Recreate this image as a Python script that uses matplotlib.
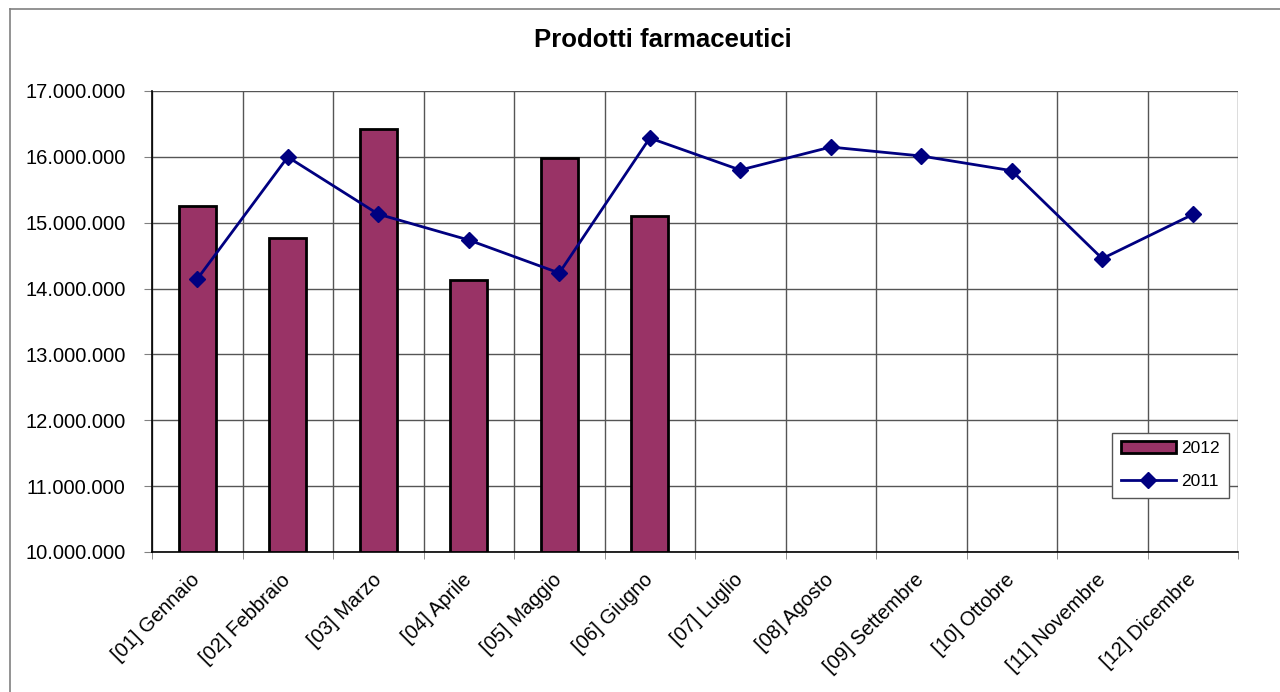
import matplotlib.pyplot as plt
from matplotlib.lines import Line2D
from matplotlib.ticker import FuncFormatter, FixedLocator

plt.rcParams['font.family'] = ['Liberation Sans', 'DejaVu Sans']

mesi = ["[01] Gennaio", "[02] Febbraio", "[03] Marzo", "[04] Aprile", "[05] Maggio",
        "[06] Giugno", "[07] Luglio", "[08] Agosto", "[09] Settembre", "[10] Ottobre",
        "[11] Novembre", "[12] Dicembre"]
# 2012 solo primi sei mesi
valori_2012 = [15254000, 14768000, 16423000, 14130000, 15982000, 15102000]
valori_2011 = [14145000, 15998000, 15130000, 14737000, 14236000, 16286000,
               15800000, 16149000, 16013000, 15790000, 14455000, 15125000]

fig = plt.figure(figsize=(12.8, 6.92), dpi=100)
ax = fig.add_axes([152/1280, 1 - 552/692, (1238-152)/1280, (552-91)/692])

x12 = list(range(len(valori_2012)))
x11 = list(range(len(valori_2011)))
barre = ax.bar(x12, [v - 10000000 for v in valori_2012], bottom=10000000, width=0.41,
               color="#993366", edgecolor="black", linewidth=2, label="2012", zorder=3)
linea, = ax.plot(x11, valori_2011, color="#000080", linewidth=2, marker="D", markersize=8,
                 label="2011", zorder=4)

ax.set_xlim(-0.5, 11.5)
ax.set_ylim(10000000, 17000000)
ax.set_yticks(range(10000000, 17000001, 1000000))
ax.yaxis.set_major_formatter(FuncFormatter(lambda v, p: f"{int(v):,}".replace(",", ".")))
ax.set_xticks(x11)
ax.set_xticklabels(mesi, rotation=45, ha="right", va="center", rotation_mode="anchor",
                   fontsize=14.5)
ax.xaxis.set_minor_locator(FixedLocator([i - 0.5 for i in range(13)]))
ax.tick_params(axis="x", which="major", length=0, pad=18)
ax.tick_params(axis="x", which="minor", length=5, color="#808080")
ax.tick_params(axis="y", length=6, color="#808080", labelsize=14.5, pad=13)

ax.grid(True, axis="y", color="#555555", linewidth=1, zorder=0)
ax.grid(True, axis="x", which="minor", color="#555555", linewidth=1, zorder=0)
for s in ["top", "right"]:
    ax.spines[s].set_visible(False)
ax.spines["left"].set_linewidth(1.2)
ax.spines["bottom"].set_linewidth(1.2)

fig.text(663/1280, 1 - 40/692, "Prodotti farmaceutici", ha="center", va="center",
         fontsize=18.5, fontweight="bold")

leg = ax.legend([barre, linea], ["2012", "2011"], loc="upper left",
                bbox_to_anchor=(0.876, 0.278), fontsize=12.5,
                fancybox=False, framealpha=1, edgecolor="#555555", borderpad=0.5,
                handlelength=3.2, labelspacing=1.0, handletextpad=0.3)
leg.get_frame().set_linewidth(1)

# bordo del grafico
fig.add_artist(Line2D([10/1280, 10/1280], [0, 1 - 9/692], color="#808080", linewidth=1.2))
fig.add_artist(Line2D([10/1280, 1], [1 - 9/692, 1 - 9/692], color="#808080", linewidth=1.2))

fig.savefig("out.png", dpi=100)
